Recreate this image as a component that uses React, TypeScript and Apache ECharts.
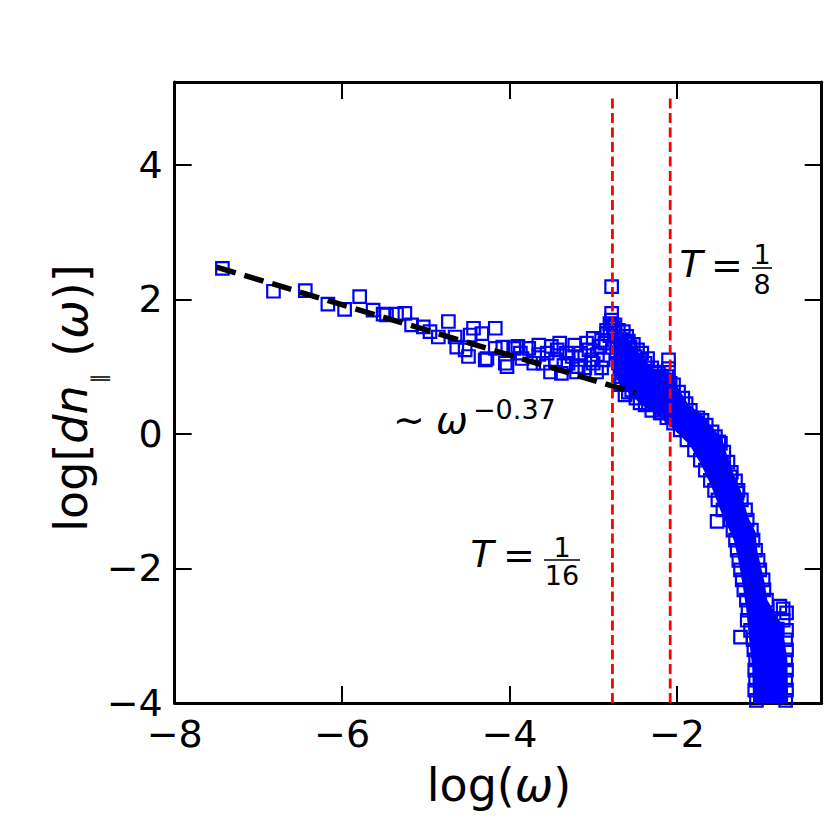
import React, { useEffect, useRef } from "react";
import * as echarts from "echarts";

// ---- axes ----
const xTicks = [-8, -6, -4, -2];
const yTicks = [-4, -2, 0, 2, 4];
const xMin = -8;
const xMax = -0.27;
const yMin = -4;
const yMax = 5.23;

// ---- data ----
const lowFreqPoints = [
  [-7.43, 2.46], [-6.82, 2.12], [-6.44, 2.13], [-6.17, 1.93], [-5.97, 1.85],
  [-5.79, 2.04], [-5.63, 1.84], [-5.51, 1.78], [-5.47, 1.77], [-5.35, 1.78],
  [-5.25, 1.79], [-5.17, 1.62], [-5.03, 1.59], [-4.95, 1.52], [-4.85, 1.44],
  [-4.73, 1.67], [-4.65, 1.44], [-4.63, 1.29], [-4.53, 1.25], [-4.49, 1.15],
  [-4.47, 1.47], [-4.43, 1.57], [-4.33, 1.49], [-4.29, 1.1], [-4.27, 1.12],
  [-4.17, 1.57], [-4.17, 1.27], [-4.08, 1.29], [-4.05, 1.05], [-4.03, 1.0],
];

const plateauPoints = [
  [-3.95, 1.27], [-3.87, 1.2], [-3.9, 1.3], [-3.85, 1.12], [-3.77, 1.27],
  [-3.71, 1.05], [-3.65, 1.32], [-3.65, 1.18], [-3.6, 1.05], [-3.55, 1.2],
  [-3.51, 0.92], [-3.5, 1.3], [-3.43, 1.25], [-3.45, 1.1], [-3.4, 1.35],
  [-3.38, 0.9], [-3.35, 1.02], [-3.32, 1.2], [-3.3, 1.05], [-3.25, 1.15],
  [-3.22, 1.32], [-3.2, 0.92], [-3.18, 1.0], [-3.15, 1.2], [-3.1, 0.98],
  [-3.08, 1.35], [-3.05, 1.25], [-3.02, 1.1], [-3.0, 1.42], [-3.0, 1.05],
  [-2.96, 0.92], [-2.95, 1.18], [-2.92, 1.3], [-2.9, 1.39], [-2.9, 0.98],
  [-2.88, 1.1], [-2.86, 1.35],
];

const peakPoints = [
  [-2.78, 2.19], [-2.78, 1.79], [-2.8, 1.64], [-2.78, 1.69], [-2.84, 1.54],
  [-2.84, 1.49], [-2.76, 1.58], [-2.8, 1.46], [-2.74, 1.5], [-2.7, 1.54],
  [-2.72, 1.39], [-2.66, 1.25], [-2.62, 1.35], [-2.56, 1.29], [-2.62, 1.1],
  [-2.68, 0.97], [-2.44, 1.1], [-2.44, 0.8], [-2.28, 0.8], [-2.1, 1.1],
  [-2.1, 0.97], [-2.12, 0.85], [-2.08, 0.75], [-2.09, 0.65],
  [-2.74, 1.62], [-2.7, 1.45], [-2.66, 1.4], [-2.64, 1.52], [-2.6, 1.45],
  [-2.58, 1.38], [-2.55, 1.2], [-2.52, 1.33], [-2.5, 1.15], [-2.47, 1.25],
  [-2.42, 1.2], [-2.38, 1.05], [-2.35, 1.12], [-2.3, 0.98], [-2.26, 0.92],
  [-2.22, 0.9], [-2.18, 0.86], [-2.72, 1.2], [-2.7, 1.05], [-2.66, 0.85],
  [-2.6, 0.8],
];

const rollOffUpperEdge = [
  [-2.61, 1.19], [-2.49, 1.07], [-2.4, 0.83], [-2.31, 0.8], [-2.04, 0.73],
  [-1.93, 0.53], [-1.84, 0.35], [-1.75, 0.24], [-1.65, 0.13], [-1.58, 0.03],
  [-1.5, -0.12], [-1.44, -0.27], [-1.39, -0.42], [-1.35, -0.57], [-1.3, -0.7],
  [-1.27, -0.84], [-1.23, -0.98], [-1.18, -1.13], [-1.16, -1.28], [-1.11, -1.43],
  [-1.09, -1.58], [-1.06, -1.73], [-1.03, -1.88], [-1.01, -2.02], [-0.97, -2.17],
  [-0.96, -2.32], [-0.93, -2.47], [-0.73, -2.77], [-0.69, -2.92], [-0.7, -3.06],
  [-0.69, -3.21], [-0.7, -3.36], [-0.69, -3.51], [-0.7, -3.66], [-0.69, -3.81],
  [-0.7, -3.96], [-1.98, 0.62], [-1.89, 0.45], [-1.7, 0.2], [-1.54, -0.04],
];

const rollOffLowerEdge = [
  [-2.68, 0.73], [-2.58, 0.62], [-2.54, 0.65], [-2.49, 0.53], [-2.38, 0.43],
  [-2.34, 0.45], [-2.3, 0.35], [-2.2, 0.31], [-2.18, 0.31], [-2.12, 0.24],
  [-2.06, 0.25], [-2.04, 0.16], [-1.96, 0.06], [-1.88, -0.09], [-1.79, -0.24],
  [-1.72, -0.39], [-1.66, -0.54], [-1.6, -0.69], [-1.55, -0.84], [-1.51, -0.98],
  [-1.45, -1.13], [-1.36, -1.28], [-1.33, -1.43], [-1.3, -1.58], [-1.28, -1.73],
  [-1.26, -1.88], [-1.24, -2.02], [-1.22, -2.17], [-1.2, -2.32], [-1.17, -2.47],
  [-1.15, -2.62], [-1.16, -2.77], [-1.12, -2.92], [-1.09, -3.06], [-1.08, -3.21],
  [-1.06, -3.36], [-1.07, -3.51], [-1.06, -3.66], [-1.07, -3.81], [-1.05, -3.96],
  [-2.62, 0.58], [-2.44, 0.46],
];

const rollOffInner = [
  [-1.98, 0.42], [-1.88, 0.16], [-1.8, 0.21], [-1.72, 0.11], [-1.74, -0.09],
  [-1.64, -0.04], [-1.58, -0.24], [-1.48, -0.14], [-1.52, -0.44], [-1.44, -0.49],
  [-1.36, -0.64], [-1.4, -0.84], [-1.28, -0.88], [-0.9, -3.0], [-0.85, -3.4],
  [-0.95, -3.7], [-0.88, -3.9], [-1.0, -2.7], [-0.8, -2.9],
];

const outlierPoints = [
  [-1.52, -1.3], [-1.24, -3.02], [-0.77, -2.56], [-0.69, -2.66], [-0.73, -2.6],
];

// saturated core of the roll-off band (upper/right boundary top->bottom, lower/left bottom->top)
const bandCoreUpper = [
  [-2.77, 1.5], [-2.62, 1.42], [-2.45, 1.2], [-2.3, 0.98], [-2.04, 0.9],
  [-2.0, 0.72], [-1.87, 0.45], [-1.7, 0.28], [-1.6, 0.13], [-1.46, -0.07],
  [-1.36, -0.48], [-1.24, -0.83], [-1.15, -1.23], [-1.06, -1.46], [-1.04, -1.73],
  [-0.95, -2.22], [-0.92, -2.47], [-0.74, -2.84], [-0.68, -3.36], [-0.67, -4.0],
];
const bandCoreLower = [
  [-1.09, -4.0], [-1.1, -3.47], [-1.14, -3.02], [-1.17, -2.62], [-1.21, -2.28],
  [-1.26, -1.91], [-1.32, -1.58], [-1.47, -1.17], [-1.59, -0.78], [-1.71, -0.46],
  [-1.85, -0.16], [-2.0, 0.02], [-2.12, 0.16], [-2.26, 0.3], [-2.43, 0.44],
  [-2.64, 0.68], [-2.75, 0.86],
];

const fitLine = [[-7.5, 2.48], [-2.5, 0.61]];
const periodLineX = [-2.77, -2.08]; // ln(1/16), ln(1/8)
const periodLineY = [-4, 5];

const FONT = "DejaVu Sans";
const minus = (v: number) => (v < 0 ? "\u2212" + Math.abs(v) : String(v));

export default function App() {
  const ref = useRef<HTMLDivElement>(null);

  useEffect(() => {
    document.body.style.margin = "0";
    if (!ref.current) return;
    const chart = echarts.init(ref.current, undefined, { renderer: "svg" });

    const axisLine = { show: true, onZero: false, lineStyle: { color: "#000", width: 3 } };
    const tick = (vals: number[]) => ({
      show: true,
      inside: true,
      length: 17,
      customValues: vals,
      lineStyle: { color: "#000", width: 2 },
    });

    const scatterData = [
      ...lowFreqPoints,
      ...plateauPoints,
      ...peakPoints,
      ...rollOffUpperEdge,
      ...rollOffLowerEdge,
      ...rollOffInner,
      ...outlierPoints,
    ];

    const fracText = (x: number, num: string, den: string, yNum: number, yBar: number, yDen: number, half: number) => [
      { type: "text", x, y: yNum, style: { text: num, fontFamily: FONT, fontSize: 27, fill: "#000", align: "center", verticalAlign: "middle" } },
      { type: "line", shape: { x1: x - half, y1: yBar, x2: x + half, y2: yBar }, style: { stroke: "#000", lineWidth: 1.6 } },
      { type: "text", x, y: yDen, style: { text: den, fontFamily: FONT, fontSize: 27, fill: "#000", align: "center", verticalAlign: "middle" } },
    ];

    const txt = (x: number, y: number, text: string, size: number, italic = false, align = "center") => ({
      type: "text",
      x,
      y,
      style: {
        text,
        fontFamily: FONT,
        fontSize: size,
        fontStyle: italic ? "italic" : "normal",
        fill: "#000",
        align,
        verticalAlign: "middle",
      },
    });

    chart.setOption({
      animation: false,
      backgroundColor: "#fff",
      grid: { left: 174.7, right: 8.3, top: 82, bottom: 127, containLabel: false },
      xAxis: [
        {
          type: "value",
          min: xMin,
          max: xMax,
          position: "bottom",
          axisLine,
          axisTick: tick(xTicks),
          splitLine: { show: false },
          axisLabel: {
            customValues: xTicks,
            formatter: (v: number) => minus(v),
            fontFamily: FONT,
            fontSize: 38,
            color: "#000",
            margin: 12,
          },
        },
        {
          type: "value",
          min: xMin,
          max: xMax,
          position: "top",
          axisLine,
          axisTick: tick(xTicks),
          splitLine: { show: false },
          axisLabel: { show: false },
        },
      ],
      yAxis: [
        {
          type: "value",
          min: yMin,
          max: yMax,
          position: "left",
          axisLine,
          axisTick: tick(yTicks),
          splitLine: { show: false },
          axisLabel: {
            customValues: yTicks,
            formatter: (v: number) => minus(v),
            fontFamily: FONT,
            fontSize: 38,
            color: "#000",
            margin: 12,
          },
        },
        {
          type: "value",
          min: yMin,
          max: yMax,
          position: "right",
          axisLine,
          axisTick: tick(yTicks),
          splitLine: { show: false },
          axisLabel: { show: false },
        },
      ],
      series: [
        {
          type: "custom",
          coordinateSystem: "cartesian2d",
          xAxisIndex: 0,
          yAxisIndex: 0,
          clip: true,
          silent: true,
          z: 1,
          data: [bandCoreUpper[0]],
          renderItem: (_params: any, api: any) => {
            const pts = [...bandCoreUpper, ...bandCoreLower].map((p) => api.coord(p));
            return { type: "polygon", shape: { points: pts }, style: { fill: "#0000ff" } };
          },
        },
        {
          type: "scatter",
          xAxisIndex: 0,
          yAxisIndex: 0,
          z: 2,
          symbol: "rect",
          symbolSize: 12.5,
          clip: true,
          itemStyle: { color: "rgba(0,0,0,0)", borderColor: "#0000ff", borderWidth: 2.2, opacity: 1 },
          data: scatterData,
        },
        {
          type: "line",
          xAxisIndex: 0,
          yAxisIndex: 0,
          z: 3,
          symbol: "none",
          data: fitLine,
          lineStyle: { color: "#000", width: 5.5, type: [20, 9] },
        },
        ...periodLineX.map((x) => ({
          type: "line",
          xAxisIndex: 0,
          yAxisIndex: 0,
          z: 4,
          symbol: "none",
          data: periodLineY.map((y) => [x, y]),
          lineStyle: { color: "#ff0000", width: 2.8, type: [10, 4.5] },
        })),
      ],
      graphic: [
        // x axis name
        {
          type: "text",
          x: 499,
          y: 785,
          style: {
            text: "{n|log(}{i|ω}{n|)}",
            align: "center",
            verticalAlign: "middle",
            rich: {
              n: { fontFamily: FONT, fontSize: 46, fill: "#000" },
              i: { fontFamily: FONT, fontSize: 46, fontStyle: "italic", fill: "#000" },
            },
          },
        },
        // y axis name
        {
          type: "text",
          x: 71,
          y: 398,
          rotation: Math.PI / 2,
          style: {
            text: "{n|log[}{i|dn}{s|∥}{n| (}{i|ω}{n|)]}",
            align: "center",
            verticalAlign: "middle",
            rich: {
              n: { fontFamily: FONT, fontSize: 46, fill: "#000" },
              i: { fontFamily: FONT, fontSize: 46, fontStyle: "italic", fill: "#000" },
              s: { fontFamily: FONT, fontSize: 20, fill: "#000", padding: [56, 2, 0, 2] },
            },
          },
        },
        // T = 1/8
        txt(691, 264, "T", 38, true),
        txt(727, 265, "=", 38),
        ...fracText(762, "1", "8", 254, 268, 284, 10),
        // ~ omega^-0.37
        txt(409, 420, "\u223C", 38),
        txt(452, 420, "ω", 38, true),
        txt(473, 409, "\u22120.37", 27, false, "left"),
        // T = 1/16
        txt(482, 554, "T", 38, true),
        txt(519, 555, "=", 38),
        ...fracText(562, "1", "16", 547, 560, 575, 18),
      ],
    });

    return () => chart.dispose();
  }, []);

  return <div ref={ref} style={{ width: 830, height: 830 }} />;
}
